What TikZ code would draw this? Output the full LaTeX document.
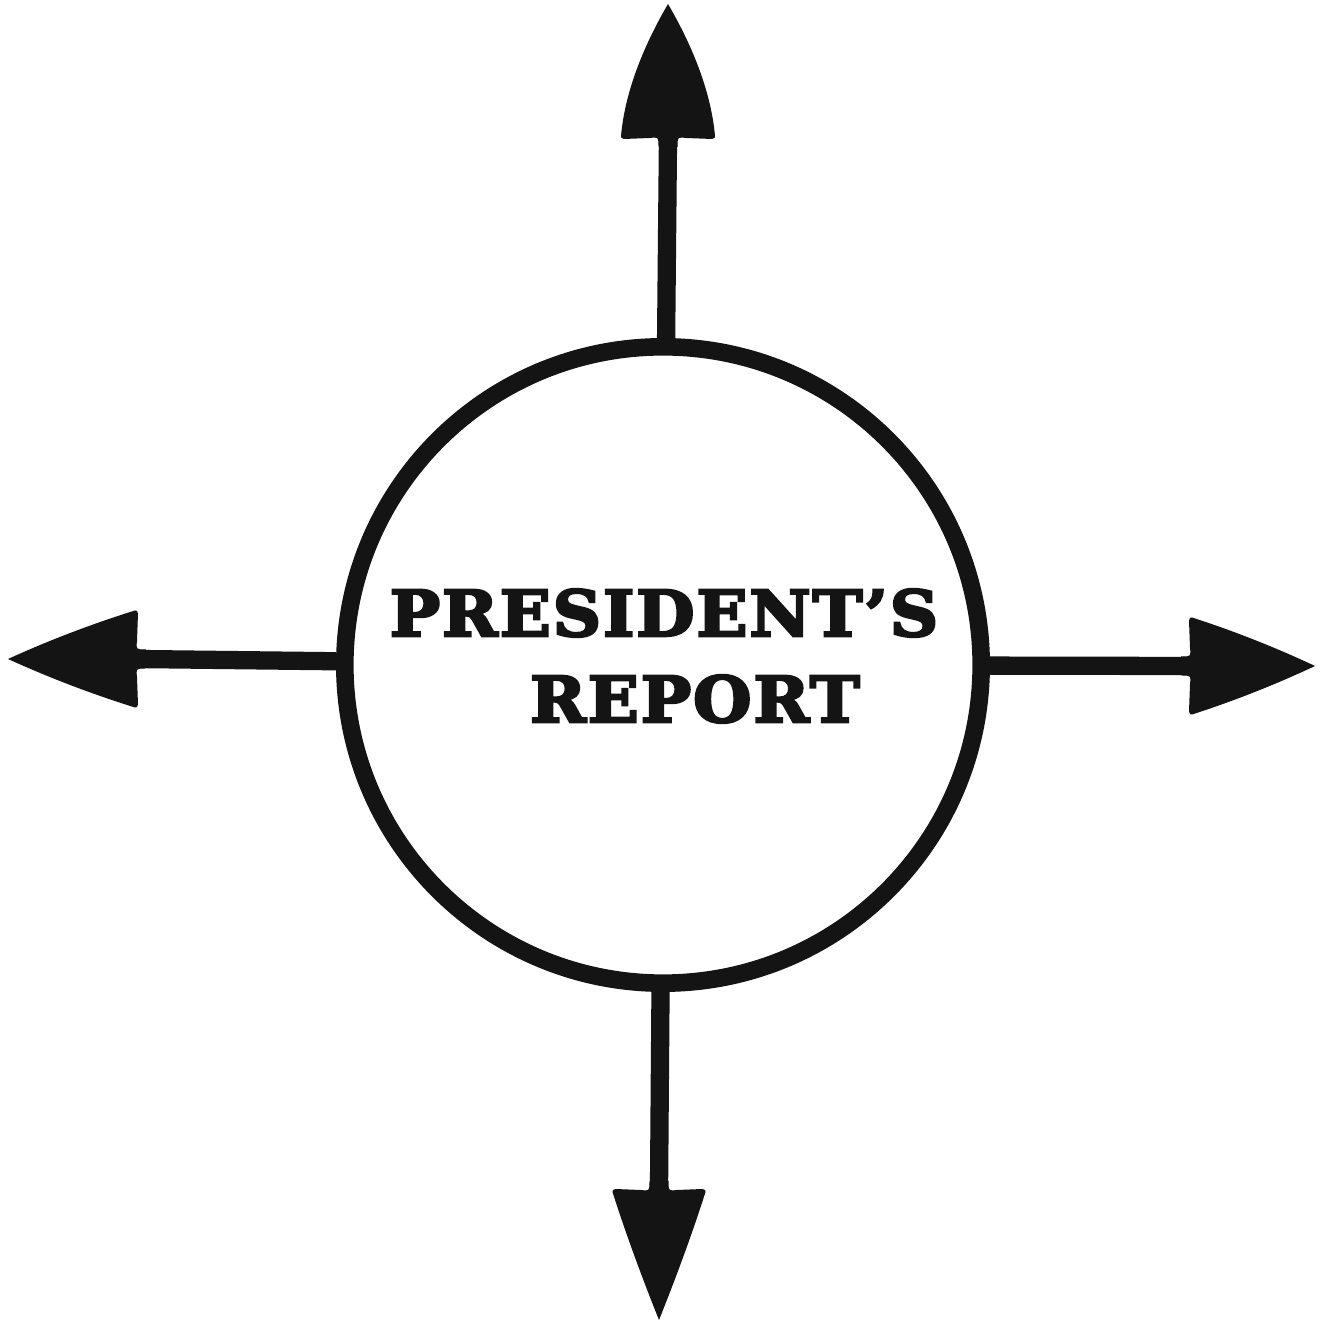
\documentclass[tikz,border=0pt]{standalone}
\usepackage{fontspec}
\newfontfamily\titlefont[LetterSpace=3,FakeBold=4,FakeStretch=1.06]{DejaVu Serif Bold}
\begin{document}
\begin{tikzpicture}[x=0.01cm,y=0.01cm,
  ring/.style={circle,draw=black!92,line width=5pt,minimum size=6.36cm,inner sep=0pt},
  shaft/.style={draw=black!92,line width=5.2pt},
  label/.style={font=\titlefont\fontsize{18}{20}\selectfont,text=black!92,inner sep=0pt}]
\useasboundingbox (0,0) rectangle (1324,1330);
\fill[white] (0,0) rectangle (1324,1330);
% arrowhead: #1 base point, #2 rotation, #3 length, #4 half width, #5 #6 control shape factors
\newcommand\arrowhead[6]{%
  \begin{scope}[shift={(#1)},rotate=#2]
  \fill[black!92] (-1,#4-3) .. controls (0,#4) .. (2,#4)
     .. controls (0.33*#3,#5*#4) and (0.67*#3,#6*#4) .. (#3,0)
     .. controls (0.67*#3,-#6*#4) and (0.33*#3,-#5*#4) .. (2,-#4)
     .. controls (0,-#4) .. (-1,-#4+3)
     -- (0,-18) .. controls (1,-9.5) .. (-9,-9.5) -- (-9,9.5) .. controls (1,9.5) .. (0,18) -- cycle;
  \end{scope}}
\node[ring] (c) at (663,665) {};
\coordinate (tN) at (668,1192);
\coordinate (tW) at (137,671);
\coordinate (tE) at (1190,664);
\coordinate (tS) at (659,140);
\draw[shaft] (c) -- (tN);
\draw[shaft] (c) -- (tW);
\draw[shaft] (c) -- (tE);
\draw[shaft] (c) -- (tS);
\arrowhead{tN}{90}{134}{47}{0.92}{0.55}
\arrowhead{tW}{180}{129}{48.5}{0.74}{0.4}
\arrowhead{tE}{0}{125}{48.5}{0.74}{0.4}
\arrowhead{tS}{-90}{130}{46.5}{0.72}{0.37}
\node[label] (l1) at (664,717) {PRESIDENT’S};
\node[label] (l2) at (695,631) {REPORT};
\end{tikzpicture}
\end{document}
